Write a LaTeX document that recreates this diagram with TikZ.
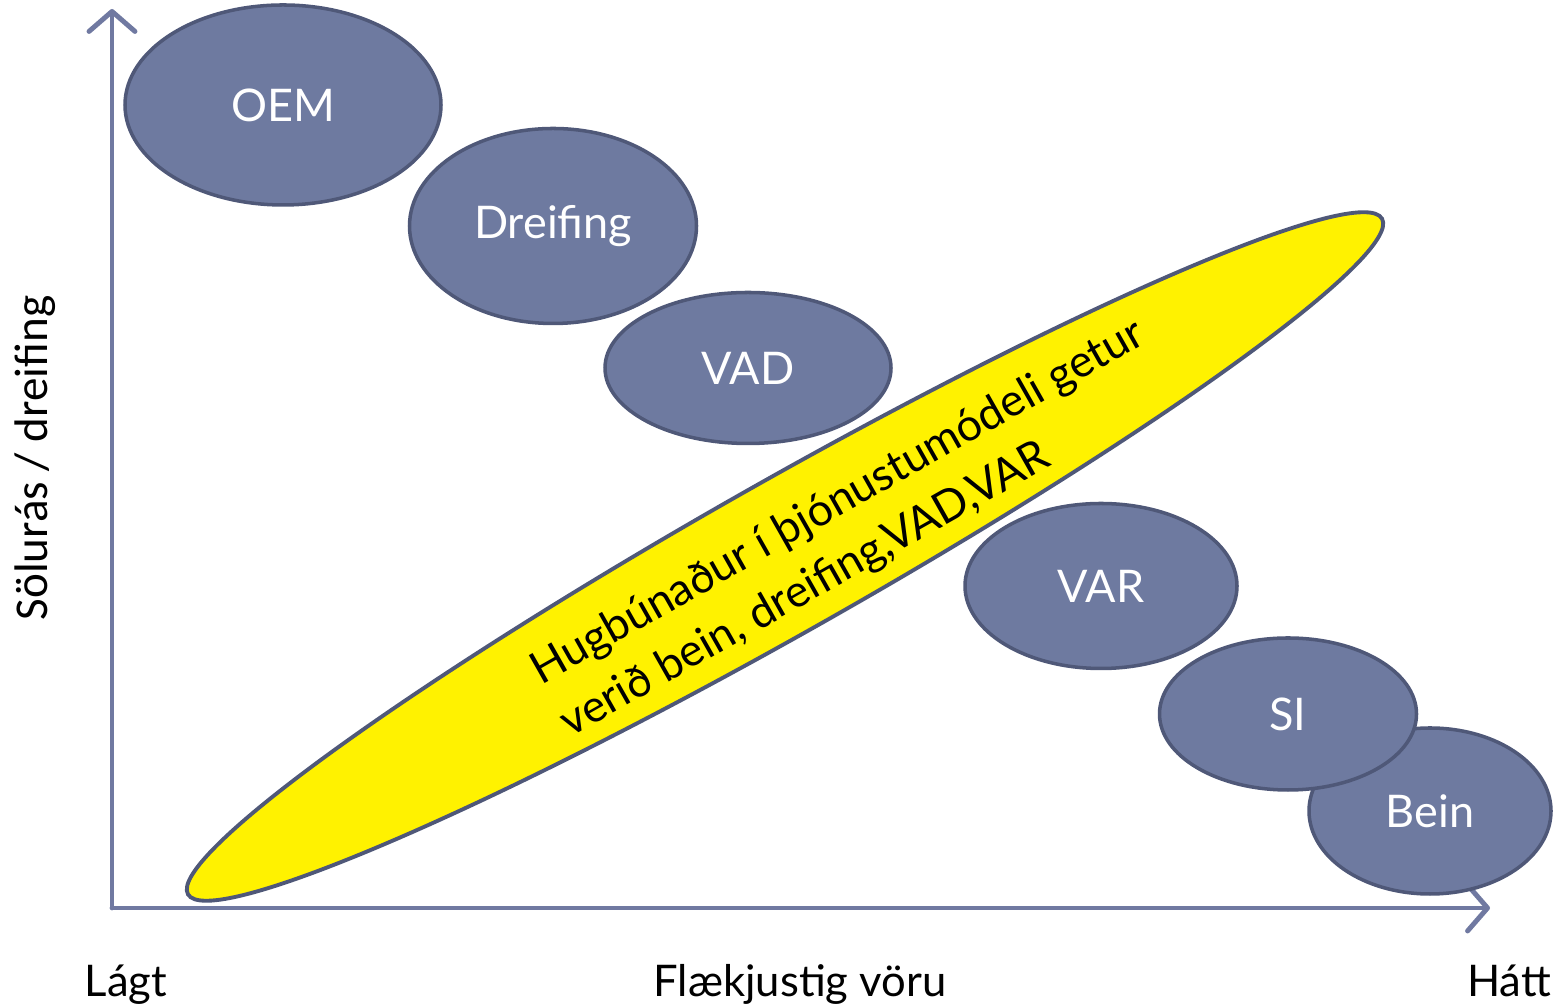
\documentclass[tikz,border=0pt]{standalone}
\usepackage{fontspec}
\setmainfont{Lato}
\newfontfamily\axisfont{Carlito}
\usetikzlibrary{shapes.geometric,arrows.meta}
\definecolor{chanfill}{RGB}{110,122,160}
\definecolor{chanline}{RGB}{79,88,120}
\definecolor{axiscol}{RGB}{112,121,161}
\begin{document}
\begin{tikzpicture}[
    chan/.style={ellipse,draw=chanline,fill=chanfill,line width=1pt,inner sep=0pt,text=white,font=\fontsize{12.8}{15}\selectfont},
    axis/.style={draw=axiscol,line width=1.4pt,line cap=round,-{Straight Barb[length=2mm,width=4.6mm,round]}},
    lbl/.style={anchor=base,font=\fontsize{12.4}{15}\selectfont}]
  \useasboundingbox (0,0) rectangle (15.59,10.05);
  % axes
  \coordinate (o) at (1.12,0.97);
  \coordinate (ytop) at (1.12,9.96);
  \coordinate (xend) at (14.90,0.97);
  \draw[axis] (o) -- (ytop);
  \draw[axis] (o) -- (xend);
  % channels
  \node[chan,minimum width=3.16cm,minimum height=2cm] (oem) at (2.83,9.00) {OEM};
  \node[chan,minimum width=2.87cm,minimum height=1.95cm] (dreif) at (5.53,7.79) {Dreifing};
  \node[chan,minimum width=2.86cm,minimum height=1.51cm] (vad) at (7.48,6.37) {VAD};
  \node[ellipse,draw=chanline,fill=yellow,line width=1.1pt,rotate=29.5,minimum width=13.72cm,minimum height=1.52cm] (saas) at (7.85,4.485) {};
  \node[rotate=29.5,align=left,font=\fontsize{12.7}{17}\selectfont] (saastxt) at (8.53,4.76) {Hugbúnaður í þjónustumódeli getur\\verið bein, dreifing,VAD,VAR};
  \node[chan,minimum width=2.72cm,minimum height=1.65cm] (var) at (11.01,4.19) {VAR};
  \node[chan,minimum width=2.42cm,minimum height=1.66cm] (bein) at (14.30,1.94) {Bein};
  \node[chan,minimum width=2.57cm,minimum height=1.52cm] (si) at (12.88,2.91) {SI};
  % axis labels
  \node[lbl] (lagt) at (1.26,0.08) {Lágt};
  \node[lbl] (flaek) at (8.00,0.08) {Flækjustig vöru};
  \node[lbl] (hatt) at (15.09,0.08) {Hátt};
  \node[rotate=90,font=\axisfont\fontsize{13.4}{15}\selectfont] (solur) at (0.35,5.47) {Sölurás / dreifing};
\end{tikzpicture}
\end{document}
